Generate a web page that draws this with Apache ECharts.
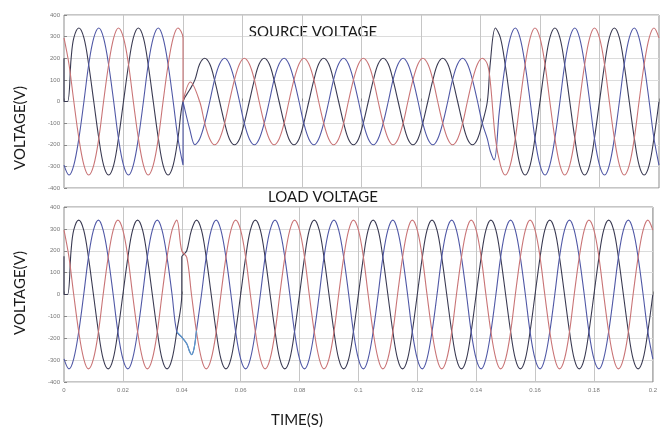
<!DOCTYPE html>
<html><head><meta charset="utf-8">
<script src="https://cdn.jsdelivr.net/npm/echarts@6/dist/echarts.min.js"></script>
<style>html,body{margin:0;padding:0;background:#fff}#c{width:660px;height:439px}</style>
</head><body><div id="c"></div>
<script>
// ---- data (time in ms, voltage in V) ----
const xTickLabels = ['0','0.02','0.04','0.06','0.08','0.1','0.12','0.14','0.16','0.18','0.2'];
const yTicks = [-400,-300,-200,-100,0,100,200,300,400];

// full-amplitude sampling times (every 30 degrees of a 50 Hz wave)
const tFull = [
0,1.7,3.3,5,6.7,8.3,10,11.7,13.3,15,16.7,18.3,
20,21.7,23.3,25,26.7,28.3,30,31.7,33.3,35,36.7,38.3,
40,41.7,43.3,45,46.7,48.3,50,51.7,53.3,55,56.7,58.3,
60,61.7,63.3,65,66.7,68.3,70,71.7,73.3,75,76.7,78.3,
80,81.7,83.3,85,86.7,88.3,90,91.7,93.3,95,96.7,98.3,
100,101.7,103.3,105,106.7,108.3,110,111.7,113.3,115,116.7,118.3,
120,121.7,123.3,125,126.7,128.3,130,131.7,133.3,135,136.7,138.3,
140,141.7,143.3,145,146.7,148.3,150,151.7,153.3,155,156.7,158.3,
160,161.7,163.3,165,166.7,168.3,170,171.7,173.3,175,176.7,178.3,
180,181.7,183.3,185,186.7,188.3,190,191.7,193.3,195,196.7,198.3,
200];
const phaseA = [
0,170,294,340,294,170,0,-170,-294,-340,-294,-170,
0,170,294,340,294,170,0,-170,-294,-340,-294,-170,
0,170,294,340,294,170,0,-170,-294,-340,-294,-170,
0,170,294,340,294,170,0,-170,-294,-340,-294,-170,
0,170,294,340,294,170,0,-170,-294,-340,-294,-170,
0,170,294,340,294,170,0,-170,-294,-340,-294,-170,
0,170,294,340,294,170,0,-170,-294,-340,-294,-170,
0,170,294,340,294,170,0,-170,-294,-340,-294,-170,
0,170,294,340,294,170,0,-170,-294,-340,-294,-170,
0,170,294,340,294,170,0,-170,-294,-340,-294,-170,
0];
const phaseB = [
-294,-340,-294,-170,0,170,294,340,294,170,0,-170,
-294,-340,-294,-170,0,170,294,340,294,170,0,-170,
-294,-340,-294,-170,0,170,294,340,294,170,0,-170,
-294,-340,-294,-170,0,170,294,340,294,170,0,-170,
-294,-340,-294,-170,0,170,294,340,294,170,0,-170,
-294,-340,-294,-170,0,170,294,340,294,170,0,-170,
-294,-340,-294,-170,0,170,294,340,294,170,0,-170,
-294,-340,-294,-170,0,170,294,340,294,170,0,-170,
-294,-340,-294,-170,0,170,294,340,294,170,0,-170,
-294,-340,-294,-170,0,170,294,340,294,170,0,-170,
-294];
const phaseC = [
294,170,0,-170,-294,-340,-294,-170,0,170,294,340,
294,170,0,-170,-294,-340,-294,-170,0,170,294,340,
294,170,0,-170,-294,-340,-294,-170,0,170,294,340,
294,170,0,-170,-294,-340,-294,-170,0,170,294,340,
294,170,0,-170,-294,-340,-294,-170,0,170,294,340,
294,170,0,-170,-294,-340,-294,-170,0,170,294,340,
294,170,0,-170,-294,-340,-294,-170,0,170,294,340,
294,170,0,-170,-294,-340,-294,-170,0,170,294,340,
294,170,0,-170,-294,-340,-294,-170,0,170,294,340,
294,170,0,-170,-294,-340,-294,-170,0,170,294,340,
294];

// sag interval sampling times and values (source voltage, reduced and phase-shifted)
const tSag = [
42.3,44,45.6,47.3,49,50.6,52.3,54,55.6,57.3,59,60.6,
62.3,64,65.6,67.3,69,70.6,72.3,74,75.6,77.3,79,80.6,
82.3,84,85.6,87.3,89,90.6,92.3,94,95.6,97.3,99,100.6,
102.3,104,105.6,107.3,109,110.6,112.3,114,115.6,117.3,119,120.6,
122.3,124,125.6,127.3,129,130.6,132.3,134,135.6,137.3,139,140.6,
142.3];
const sagA = [
0,100,173,200,173,100,0,-100,-173,-200,-173,-100,
0,100,173,200,173,100,0,-100,-173,-200,-173,-100,
0,100,173,200,173,100,0,-100,-173,-200,-173,-100,
0,100,173,200,173,100,0,-100,-173,-200,-173,-100,
0,100,173,200,173,100,0,-100,-173,-200,-173,-100,
0];
const sagB = [
-173,-200,-173,-100,0,100,173,200,173,100,0,-100,
-173,-200,-173,-100,0,100,173,200,173,100,0,-100,
-173,-200,-173,-100,0,100,173,200,173,100,0,-100,
-173,-200,-173,-100,0,100,173,200,173,100,0,-100,
-173,-200,-173,-100,0,100,173,200,173,100,0,-100,
-173];
const sagC = [
173,100,0,-100,-173,-200,-173,-100,0,100,173,200,
173,100,0,-100,-173,-200,-173,-100,0,100,173,200,
173,100,0,-100,-173,-200,-173,-100,0,100,173,200,
173,100,0,-100,-173,-200,-173,-100,0,100,173,200,
173,100,0,-100,-173,-200,-173,-100,0,100,173,200,
173];

// transient pieces
const srcA_start = [[0,200],[0,0],[1.2,0],[2.4,200]];
const srcA_sagIn = [[42.3,55]];
const srcA_sagOut = [[143.3,180],[145,340]];
const srcB_sagIn = [[40,0],[42.3,-130]];
const srcB_sagOut = [[143.3,-230],[144.6,-270],[146.3,-50]];
const srcC_sagIn = [[40,0],[42.5,90]];
const srcC_sagOut = [[143.3,90]];
const loadA_start = [[0,175],[0,0],[1.2,0],[2.4,200]];
const loadA_jump = [[40,173],[40.6,182],[41.7,200]];
const loadB_dip = [[38.3,-170],[40,-195],[41.7,-225],[42.7,-262],[43.3,-275],[44.2,-245],[45,-165]];
const loadC_kink = [[40,200]];

function pick(t, v, from, to) {
  const out = [];
  for (let i = 0; i < t.length; i++) if (t[i] >= from && t[i] <= to) out.push([t[i], v[i]]);
  return out;
}

const srcA = [].concat(srcA_start, pick(tFull, phaseA, 3, 40), srcA_sagIn, pick(tSag, sagA, 43, 142.3), srcA_sagOut, pick(tFull, phaseA, 146, 200));
const srcB = [].concat(pick(tFull, phaseB, 0, 40), srcB_sagIn, pick(tSag, sagB, 43, 142.3), srcB_sagOut, pick(tFull, phaseB, 148, 200));
const srcC = [].concat(pick(tFull, phaseC, 0, 40), srcC_sagIn, pick(tSag, sagC, 45, 142.3), srcC_sagOut, pick(tFull, phaseC, 145, 200));
const loadA = [].concat(loadA_start, pick(tFull, phaseA, 3, 40), loadA_jump, pick(tFull, phaseA, 43, 200));
const loadB = [].concat(pick(tFull, phaseB, 0, 37), loadB_dip, pick(tFull, phaseB, 46, 200));
const loadC = [].concat(pick(tFull, phaseC, 0, 38.3), loadC_kink, pick(tFull, phaseC, 41, 200));

const colA = '#3a3a52', colB = '#5058a6', colC = '#c97476', colDip = '#5b9ccc';

const chart = echarts.init(document.getElementById('c'), null, {renderer: 'canvas'});
function xAx(i, labels) {
  return {gridIndex: i, type: 'value', min: 0, max: 200, interval: 20,
    axisLine: {show: false},
    axisTick: {show: true, inside: true, length: 3, lineStyle: {color: '#888'}},
    axisLabel: {show: labels, fontSize: 6, color: '#777', margin: 5, fontFamily: 'Liberation Sans',
      formatter: v => xTickLabels[Math.round(v / 20)]},
    splitLine: {show: true, lineStyle: {color: '#c6c6c6', width: 1}}};
}
function yAx(i) {
  return {gridIndex: i, type: 'value', min: yTicks[0], max: yTicks[yTicks.length - 1], interval: 100,
    axisLine: {show: false},
    axisTick: {show: true, inside: true, length: 3, lineStyle: {color: '#888'}},
    axisLabel: {fontSize: 6, color: '#777', margin: 4, fontFamily: 'Liberation Sans'},
    splitLine: {show: true, lineStyle: {color: '#dcdcdc', width: 1}}};
}
function line(name, data, color, xi, w) {
  return {name, type: 'line', data, xAxisIndex: xi, yAxisIndex: xi, showSymbol: false,
    smooth: 0.35, lineStyle: {color, width: w || 1.1}, itemStyle: {color},
    animation: false, silent: true};
}
const txt = (text, x, y, size, rot) => ({type: 'text', x, y, rotation: rot || 0,
  style: {text, fill: '#1a1a1a', font: size + 'px Lato', align: 'center', verticalAlign: 'middle',
    textAlign: 'center', textVerticalAlign: 'middle'}});

chart.setOption({
  animation: false,
  grid: [
    {left: 64, right: 1, top: 15, height: 173, show: true, borderColor: '#8c8c8c', borderWidth: 1, backgroundColor: 'transparent'},
    {left: 64, right: 1, top: 207, height: 175, show: true, borderColor: '#8c8c8c', borderWidth: 1, backgroundColor: 'transparent'}
  ],
  xAxis: [xAx(0, false), xAx(1, true)],
  yAxis: [yAx(0), yAx(1)],
  series: [
    line('Source A', srcA, colA, 0), line('Source B', srcB, colB, 0), line('Source C', srcC, colC, 0),
    line('Load A', loadA, colA, 1), line('Load B', loadB, colB, 1), line('Load C', loadC, colC, 1),
    line('Load B dip', loadB_dip, colDip, 1)
  ],
  graphic: [
    txt('SOURCE VOLTAGE', 313, 32, 15),
    txt('LOAD VOLTAGE', 323, 197, 15),
    txt('VOLTAGE(V)', 20, 128, 15, Math.PI / 2),
    txt('VOLTAGE(V)', 20, 293, 15, Math.PI / 2),
    txt('TIME(S)', 297, 420, 15)
  ]
});
</script></body></html>
